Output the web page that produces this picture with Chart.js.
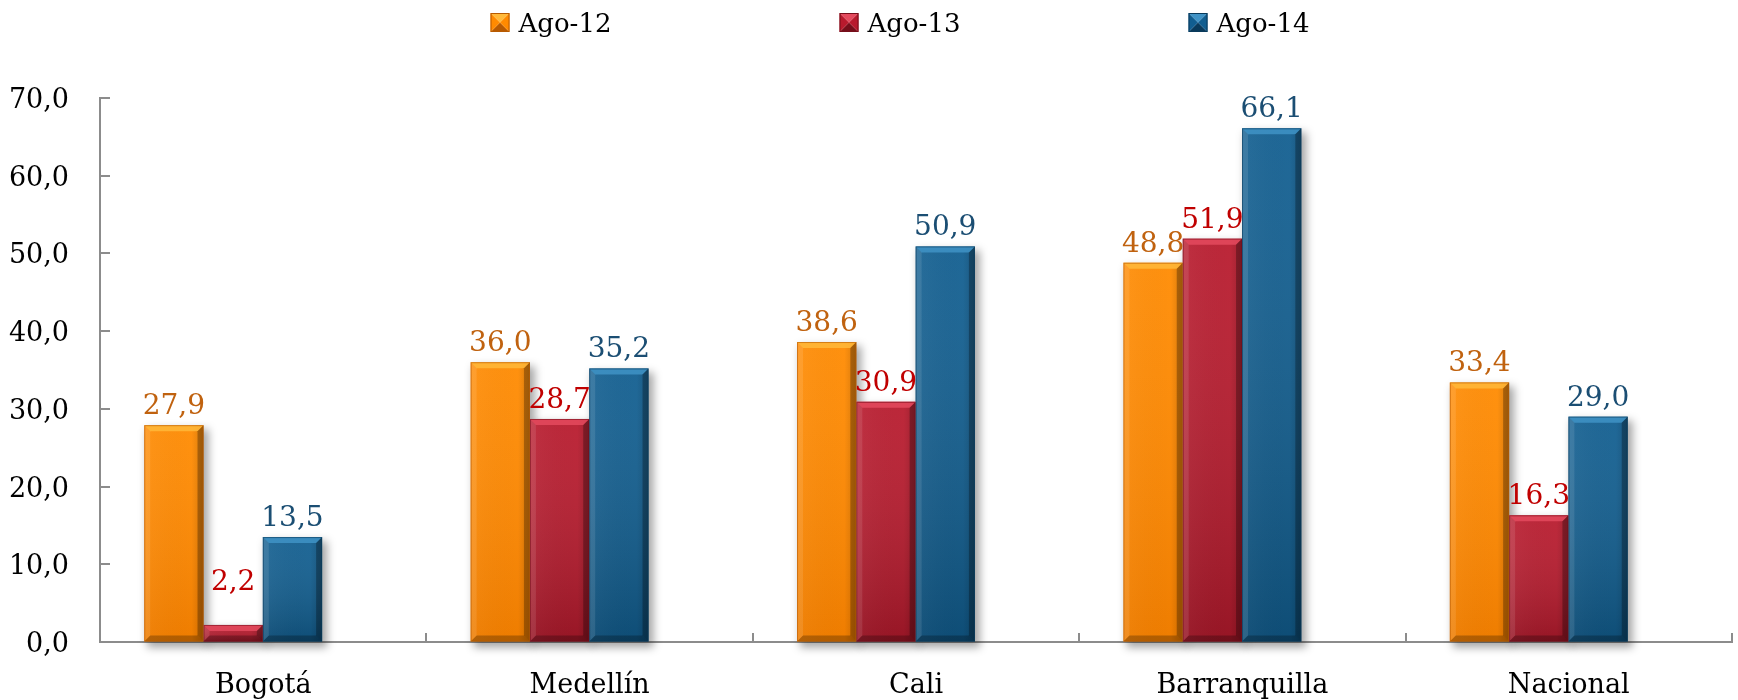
<!DOCTYPE html>
<html>
<head>
<meta charset="utf-8">
<script src="https://cdn.jsdelivr.net/npm/chart.js@4.4.1/dist/chart.umd.min.js"></script>
<style>
  html, body { margin: 0; padding: 0; background: #ffffff; }
  #wrap { width: 1738px; height: 700px; }
</style>
</head>
<body>
<div id="wrap"><canvas id="chart" width="1738" height="700"></canvas></div>
<script>
// Values per city, one array per period
const categories = ['Bogotá', 'Medellín', 'Cali', 'Barranquilla', 'Nacional'];
const seriesNames = ['Ago-12', 'Ago-13', 'Ago-14'];
const ago12 = [27.9, 36.0, 38.6, 48.8, 33.4];
const ago13 = [2.2, 28.7, 30.9, 51.9, 16.3];
const ago14 = [13.5, 35.2, 50.9, 66.1, 29.0];
const yTicks = [0, 10, 20, 30, 40, 50, 60, 70];

// Colour sets: bar face, highlight, shade, value-label colour
const palette = [
  { base: '#FF8A00', light: '#FFB93A', dark: '#B85A00', label: '#C0620F' },
  { base: '#B81A2D', light: '#E44A5E', dark: '#760E1A', label: '#C00000' },
  { base: '#115E90', light: '#4093C6', dark: '#093A5B', label: '#1B4E73' }
];

const fmt = v => v.toFixed(1).replace('.', ',');
const FONT = "'DejaVu Serif', serif";

// Bars sit on a hidden linear axis so the clusters can be nudged left of the category centres
const toPoints = arr => arr.map((v, i) => ({ x: i, y: v }));
const seriesValues = [ago12, ago13, ago14];
const datasets = seriesValues.map((vals, i) => ({
  label: seriesNames[i],
  data: toPoints(vals),
  xAxisID: 'xb',
  yAxisID: 'y',
  backgroundColor: palette[i].base,
  borderColor: palette[i].dark,
  borderWidth: 0,
  labelColor: palette[i].label
}));

function rectOf(el) {
  const p = el.getProps(['x', 'y', 'base', 'width'], true);
  return { l: p.x - p.width / 2, r: p.x + p.width / 2, t: Math.min(p.y, p.base), b: Math.max(p.y, p.base), x: p.x, y: p.y, base: p.base };
}

// Soft drop shadow behind each bar
const barShadow = {
  id: 'barShadow',
  beforeDatasetsDraw(chart) {
    const ctx = chart.ctx;
    ctx.save();
    ctx.filter = 'blur(4px)';
    ctx.fillStyle = 'rgba(0,0,0,0.35)';
    chart.data.datasets.forEach((ds, i) => {
      chart.getDatasetMeta(i).data.forEach(el => {
        const r = rectOf(el);
        ctx.fillRect(r.l + 3, r.t + 4, r.r - r.l + 2, r.b - r.t + 2);
      });
    });
    ctx.restore();
  }
};

// Bevelled face on top of each flat bar
const barBevel = {
  id: 'barBevel',
  afterDatasetsDraw(chart) {
    const ctx = chart.ctx;
    ctx.save();
    chart.data.datasets.forEach((ds, i) => {
      const pal = palette[i];
      chart.getDatasetMeta(i).data.forEach(el => {
        const r = rectOf(el);
        const w = r.r - r.l, h = r.b - r.t;
        if (h <= 0) return;
        const b = Math.min(6, h / 2.5);
        // vertical shading
        let g = ctx.createLinearGradient(0, r.t, 0, r.b);
        g.addColorStop(0, 'rgba(255,255,255,0.06)');
        g.addColorStop(1, i === 0 ? 'rgba(120,30,0,0.12)' : 'rgba(0,0,0,0.18)');
        ctx.fillStyle = g;
        ctx.fillRect(r.l, r.t, w, h);
        // horizontal shading
        g = ctx.createLinearGradient(r.l, 0, r.r, 0);
        g.addColorStop(0, 'rgba(255,255,255,0.04)');
        g.addColorStop(0.8, 'rgba(0,0,0,0)');
        g.addColorStop(1, 'rgba(0,0,0,0.16)');
        ctx.fillStyle = g;
        ctx.fillRect(r.l, r.t, w, h);
        // top bevel
        ctx.beginPath();
        ctx.moveTo(r.l, r.t); ctx.lineTo(r.r, r.t); ctx.lineTo(r.r - b, r.t + b); ctx.lineTo(r.l + b, r.t + b); ctx.closePath();
        ctx.fillStyle = pal.light; ctx.globalAlpha = 0.85; ctx.fill(); ctx.globalAlpha = 1;
        // left bevel
        ctx.beginPath();
        ctx.moveTo(r.l, r.t); ctx.lineTo(r.l + b, r.t + b); ctx.lineTo(r.l + b, r.b - b); ctx.lineTo(r.l, r.b); ctx.closePath();
        ctx.fillStyle = 'rgba(255,255,255,0.10)'; ctx.fill();
        // right bevel
        ctx.beginPath();
        ctx.moveTo(r.r, r.t); ctx.lineTo(r.r - b, r.t + b); ctx.lineTo(r.r - b, r.b - b); ctx.lineTo(r.r, r.b); ctx.closePath();
        ctx.fillStyle = 'rgba(0,0,0,0.28)'; ctx.fill();
        // bottom bevel
        ctx.beginPath();
        ctx.moveTo(r.l, r.b); ctx.lineTo(r.l + b, r.b - b); ctx.lineTo(r.r - b, r.b - b); ctx.lineTo(r.r, r.b); ctx.closePath();
        ctx.fillStyle = 'rgba(0,0,0,0.25)'; ctx.fill();
        // outline
        ctx.strokeStyle = pal.dark; ctx.globalAlpha = 0.6; ctx.lineWidth = 1;
        ctx.strokeRect(r.l + 0.5, r.t + 0.5, w - 1, h - 1);
        ctx.globalAlpha = 1;
      });
    });
    ctx.restore();
  }
};

// Value labels above bars
const valueLabels = {
  id: 'valueLabels',
  afterDatasetsDraw(chart) {
    const ctx = chart.ctx;
    ctx.save();
    ctx.font = `28px ${FONT}`;
    ctx.textAlign = 'center';
    ctx.textBaseline = 'alphabetic';
    chart.data.datasets.forEach((ds, i) => {
      chart.getDatasetMeta(i).data.forEach((el, j) => {
        const r = rectOf(el);
        const y = Math.min(r.t - 11, r.base - 52);
        ctx.fillStyle = ds.labelColor;
        ctx.fillText(fmt(ds.data[j].y), r.x, y);
      });
    });
    ctx.restore();
  }
};

// Short tick marks pointing into the plot area
const innerTicks = {
  id: 'innerTicks',
  afterDraw(chart) {
    const { ctx, chartArea: a } = chart;
    const x = chart.scales.x, y = chart.scales.y;
    ctx.save();
    ctx.strokeStyle = '#8C8C8C';
    ctx.lineWidth = 2;
    ctx.beginPath();
    yTicks.forEach(v => {
      const py = Math.round(y.getPixelForValue(v));
      ctx.moveTo(a.left, py); ctx.lineTo(a.left + 10, py);
    });
    for (let k = 0; k <= categories.length; k++) {
      const px = Math.round(x.getPixelForValue(k - 0.5));
      ctx.moveTo(px, a.bottom); ctx.lineTo(px, a.bottom - 9);
    }
    ctx.stroke();
    ctx.restore();
  }
};

// Legend row across the top
const topLegend = {
  id: 'topLegend',
  afterDraw(chart, args, opts) {
    const { ctx, chartArea: a } = chart;
    ctx.save();
    ctx.font = `26px ${FONT}`;
    ctx.textBaseline = 'alphabetic';
    ctx.textAlign = 'left';
    const centre = (a.left + a.right) / 2 + opts.shift;
    const s = opts.box;
    chart.data.datasets.forEach((ds, i) => {
      const pal = palette[i];
      const tw = ctx.measureText(ds.label).width;
      const itemW = s + opts.gap + tw;
      const x0 = centre + (i - 1) * opts.pitch - itemW / 2;
      const y0 = opts.top;
      const cx = x0 + s / 2, cy = y0 + s / 2;
      const tri = (p, col) => { ctx.beginPath(); ctx.moveTo(p[0], p[1]); ctx.lineTo(p[2], p[3]); ctx.lineTo(cx, cy); ctx.closePath(); ctx.fillStyle = col; ctx.fill(); };
      tri([x0, y0, x0 + s, y0], pal.light);
      tri([x0, y0 + s, x0 + s, y0 + s], pal.dark);
      tri([x0, y0, x0, y0 + s], pal.base);
      tri([x0 + s, y0, x0 + s, y0 + s], pal.base);
      ctx.strokeStyle = pal.dark; ctx.lineWidth = 1;
      ctx.strokeRect(x0 + 0.5, y0 + 0.5, s - 1, s - 1);
      ctx.fillStyle = '#000000';
      ctx.fillText(ds.label, x0 + s + opts.gap, y0 + s);
    });
    ctx.restore();
  }
};

Chart.defaults.font.family = FONT;
Chart.defaults.color = '#000000';

new Chart(document.getElementById('chart'), {
  type: 'bar',
  data: { labels: categories, datasets },
  plugins: [barShadow, barBevel, valueLabels, innerTicks, topLegend],
  options: {
    responsive: false,
    animation: false,
    events: [],
    layout: { padding: { top: 98, right: 6, bottom: 0, left: 0 } },
    datasets: { bar: { categoryPercentage: 0.545, barPercentage: 1.0 } },
    plugins: {
      legend: { display: false },
      tooltip: { enabled: false },
      topLegend: { shift: -16, pitch: 349, box: 19, gap: 9, top: 13 }
    },
    scales: {
      xb: {
        type: 'linear',
        display: false,
        offset: false,
        bounds: 'data',
        grid: { offset: false },
        min: -0.408,
        max: categories.length - 0.5 + 0.092,
        // one tick per city keeps the cluster width tied to the city spacing
        afterBuildTicks(s) { s.ticks = categories.map((c, i) => ({ value: i })); }
      },
      x: {
        type: 'category',
        position: 'bottom',
        offset: true,
        grid: { display: true, drawOnChartArea: false, drawTicks: false, offset: true },
        border: { display: true, color: '#8C8C8C', width: 2 },
        ticks: { font: { size: 27 }, color: '#000000', padding: 28, maxRotation: 0 },
        afterFit(s) { s.height = 58; }
      },
      y: {
        type: 'linear',
        position: 'left',
        min: yTicks[0],
        max: yTicks[yTicks.length - 1],
        grid: { display: true, drawOnChartArea: false, drawTicks: false },
        border: { display: true, color: '#8C8C8C', width: 2 },
        ticks: {
          stepSize: yTicks[1] - yTicks[0],
          font: { size: 27 },
          color: '#000000',
          padding: 31,
          labelOffset: 3,
          callback: v => fmt(v)
        },
        afterFit(s) { s.width = 100; }
      }
    }
  }
});
</script>
</body>
</html>
